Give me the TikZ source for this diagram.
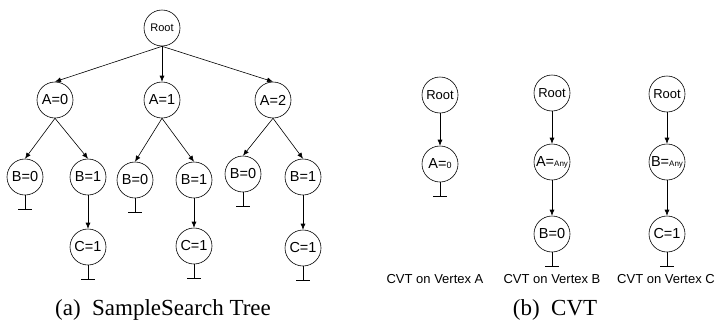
\documentclass[tikz,border=0pt]{standalone}
\usepackage{fontspec}
\setmainfont{Liberation Serif}
\newfontfamily\nodefont{Liberation Sans}
\usetikzlibrary{positioning,arrows.meta}

\begin{document}
\begin{tikzpicture}[
	x=1pt, y=-1pt,
	line width=0.6pt,
	>={Latex[length=6pt,width=5pt]},
	vertex/.style={circle, draw, minimum size=36pt, inner sep=0pt, font=\nodefont\fontsize{14.5}{14.5}\selectfont},
	rootv/.style={vertex, font=\nodefont\fontsize{11}{11}\selectfont},
	rootw/.style={vertex, font=\nodefont\fontsize{13}{13}\selectfont},
	edge/.style={->},
	cvtlabel/.style={font=\nodefont\fontsize{13}{13}\selectfont},
	caption/.style={font=\fontsize{23}{23}\selectfont}
	]
	\useasboundingbox (0,0) rectangle (715,327);
	
	% --- (a) SAMPLESEARCH TREE ---
	\node[rootv] (root) at (162,28) {Root};
	
	% livello A
	\node[vertex] (a0) at (55,100) {A=0};
	\node[vertex] (a1) at (162,100) {A=1};
	\node[vertex] (a2) at (273,100) {A=2};
	
	% livello B
	\node[vertex] (b00) at (25,177) {B=0};
	\node[vertex] (b01) at (88,177) {B=1};
	\node[vertex] (b10) at (135,180) {B=0};
	\node[vertex] (b11) at (194,180) {B=1};
	\node[vertex] (b20) at (243,174) {B=0};
	\node[vertex] (b21) at (303,177) {B=1};
	
	% livello C
	\node[vertex] (c01) at (88,247) {C=1};
	\node[vertex] (c11) at (194,246) {C=1};
	\node[vertex] (c21) at (303,248) {C=1};
	
	\foreach \a in {a0,a1,a2}
		\draw[edge] (root.south) -- (\a.north);
	\foreach \a/\b in {a0/b00,a0/b01,a1/b10,a1/b11,a2/b20,a2/b21}
		\draw[edge] (\a.south) -- (\b.north);
	\foreach \b/\c in {b01/c01,b11/c11,b21/c21}
		\draw[edge] (\b.south) -- (\c.north);
	
	\node[caption] (capa) at (163,310) {(a)\enspace SampleSearch Tree};
	
	% --- (b) CVT ---
	% vertice A
	\node[rootw] (rA) at (440,95) {Root};
	\node[vertex] (xA) at (440,164) {A=\fontsize{9}{9}\selectfont 0};
	\draw[edge] (rA) -- (xA);
	
	% vertice B
	\node[rootw] (rB) at (552,93) {Root};
	\node[vertex] (xB) at (552,162) {A=\fontsize{8}{8}\selectfont Any};
	\node[vertex] (yB) at (552,234) {B=0};
	\draw[edge] (rB) -- (xB);
	\draw[edge] (xB) -- (yB);
	
	% vertice C
	\node[rootw] (rC) at (667,94) {Root};
	\node[vertex] (xC) at (667,162) {B=\fontsize{8}{8}\selectfont Any};
	\node[vertex] (yC) at (667,234) {C=1};
	\draw[edge] (rC) -- (xC);
	\draw[edge] (xC) -- (yC);
	
	\node[cvtlabel] (labA) at (435,279) {CVT on Vertex A};
	\node[cvtlabel] (labB) at (552,279) {CVT on Vertex B};
	\node[cvtlabel] (labC) at (666,279) {CVT on Vertex C};
	
	\node[caption] (capb) at (555,310) {(b)\enspace CVT};
	
	% --- FOGLIE ---
	\foreach \n in {b00,b10,b20,c01,c11,c21,xA,yB,yC}
		\draw (\n.south) -- ++(0,14) ++(-7,0) -- ++(14,0);
	
\end{tikzpicture}
\end{document}
